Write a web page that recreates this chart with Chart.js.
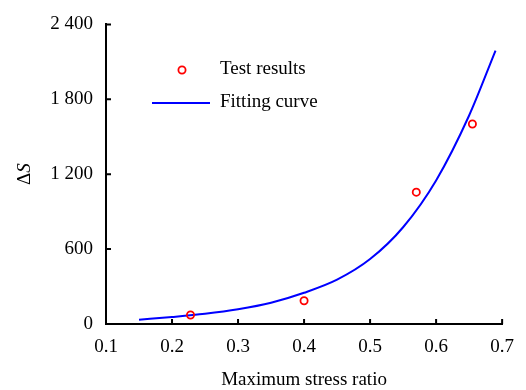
<!DOCTYPE html>
<html>
<head>
<meta charset="utf-8">
<script src="https://cdn.jsdelivr.net/npm/chart.js@4"></script>
<style>
    html, body { margin: 0; padding: 0; background: #fff; }
    #wrap { width: 526px; height: 390px; }
</style>
</head>
<body>
<div id="wrap"><canvas id="stressChart" width="526" height="390"></canvas></div>
<script>
// Test data
const testRatio = [0.228, 0.40, 0.57, 0.655];
const testDeltaS = [72, 186, 1056, 1602];

// Fitted curve, sampled
const fitRatio = [0.15, 0.20, 0.25, 0.30, 0.35, 0.40, 0.45, 0.50, 0.55, 0.60, 0.65, 0.69];
const fitDeltaS = [34, 56, 82, 118, 170, 250, 355, 520, 775, 1150, 1670, 2190];

// Axis ticks
const xTicks = [0.1, 0.2, 0.3, 0.4, 0.5, 0.6, 0.7];
const yTicks = [0, 600, 1200, 1800, 2400];

const legendLabels = ['Test results', 'Fitting curve'];
const xTitle = 'Maximum stress ratio';

const serif = '"Liberation Serif", "Times New Roman", serif';
const RED = '#ff0000';
const BLUE = '#0000ff';

// 2400 -> "2 400"
const formatTick = (v) => String(v).replace(/\B(?=(\d{3})+(?!\d))/g, ' ');

// Inward tick marks, legend and the ΔS axis title
const decorations = {
    id: 'decorations',
    afterDraw(chart) {
        const ctx = chart.ctx;
        const xs = chart.scales.x;
        const ys = chart.scales.y;
        const area = chart.chartArea;
        ctx.save();
        ctx.strokeStyle = '#000';
        ctx.lineWidth = 2;
        ctx.beginPath();
        xs.ticks.forEach(t => {
            if (t.value === xTicks[0]) return;
            const px = xs.getPixelForValue(t.value);
            ctx.moveTo(px, area.bottom);
            ctx.lineTo(px, area.bottom - 5);
        });
        ys.ticks.forEach(t => {
            if (t.value === yTicks[0]) return;
            const py = ys.getPixelForValue(t.value);
            ctx.moveTo(area.left, py);
            ctx.lineTo(area.left + 5, py);
        });
        ctx.stroke();

        // legend
        ctx.strokeStyle = RED;
        ctx.lineWidth = 1.8;
        ctx.beginPath();
        ctx.arc(182, 70, 3.6, 0, Math.PI * 2);
        ctx.stroke();
        ctx.strokeStyle = BLUE;
        ctx.lineWidth = 2;
        ctx.beginPath();
        ctx.moveTo(152, 103);
        ctx.lineTo(210, 103);
        ctx.stroke();
        ctx.fillStyle = '#000';
        ctx.font = '19px ' + serif;
        ctx.textBaseline = 'middle';
        ctx.textAlign = 'left';
        ctx.fillText(legendLabels[0], 220, 69);
        ctx.fillText(legendLabels[1], 220, 102);

        // y title: upright Δ, italic S
        ctx.translate(25, (area.top + area.bottom) / 2);
        ctx.rotate(-Math.PI / 2);
        ctx.font = '19px ' + serif;
        const wD = ctx.measureText('Δ').width;
        ctx.font = 'italic 19px ' + serif;
        const wS = ctx.measureText('S').width;
        const x0 = -(wD + wS) / 2;
        ctx.font = '19px ' + serif;
        ctx.fillText('Δ', x0, 0);
        ctx.font = 'italic 19px ' + serif;
        ctx.fillText('S', x0 + wD, 0);
        ctx.restore();
    }
};

const ctx = document.getElementById('stressChart').getContext('2d');
new Chart(ctx, {
    type: 'scatter',
    data: {
        datasets: [
            {
                label: legendLabels[0],
                data: testRatio.map((x, i) => ({ x: x, y: testDeltaS[i] })),
                showLine: false,
                pointRadius: 3.6,
                pointBorderWidth: 1.8,
                pointBorderColor: RED,
                pointBackgroundColor: 'rgba(255,255,255,0)',
                order: 0
            },
            {
                label: legendLabels[1],
                data: fitRatio.map((x, i) => ({ x: x, y: fitDeltaS[i] })),
                showLine: true,
                borderColor: BLUE,
                borderWidth: 2,
                pointRadius: 0,
                cubicInterpolationMode: 'monotone',
                order: 1
            }
        ]
    },
    options: {
        responsive: false,
        animation: false,
        devicePixelRatio: 1,
        layout: { padding: { top: 24, right: 16, left: 0, bottom: 0 } },
        plugins: {
            legend: { display: false },
            tooltip: { enabled: false }
        },
        scales: {
            x: {
                type: 'linear',
                min: 0.1,
                max: 0.7,
                afterBuildTicks: (scale) => { scale.ticks = xTicks.map(v => ({ value: v })); },
                afterFit: (scale) => { scale.height = 66; },
                grid: { display: false, drawTicks: false },
                border: { display: true, color: '#000', width: 2 },
                ticks: {
                    padding: 12,
                    color: '#000',
                    font: { family: serif, size: 19 },
                    callback: (v) => v.toFixed(1)
                },
                title: {
                    display: true,
                    text: xTitle,
                    color: '#000',
                    font: { family: serif, size: 19, lineHeight: 1 },
                    padding: { top: 0, bottom: 0.5 }
                }
            },
            y: {
                type: 'linear',
                min: 0,
                max: 2400,
                afterBuildTicks: (scale) => { scale.ticks = yTicks.map(v => ({ value: v })); },
                afterFit: (scale) => { scale.width = 106; },
                grid: { display: false, drawTicks: false },
                border: { display: true, color: '#000', width: 2 },
                ticks: {
                    padding: 13,
                    color: '#000',
                    font: { family: serif, size: 19 },
                    callback: (v) => formatTick(v)
                }
            }
        }
    },
    plugins: [decorations]
});
</script>
</body>
</html>
